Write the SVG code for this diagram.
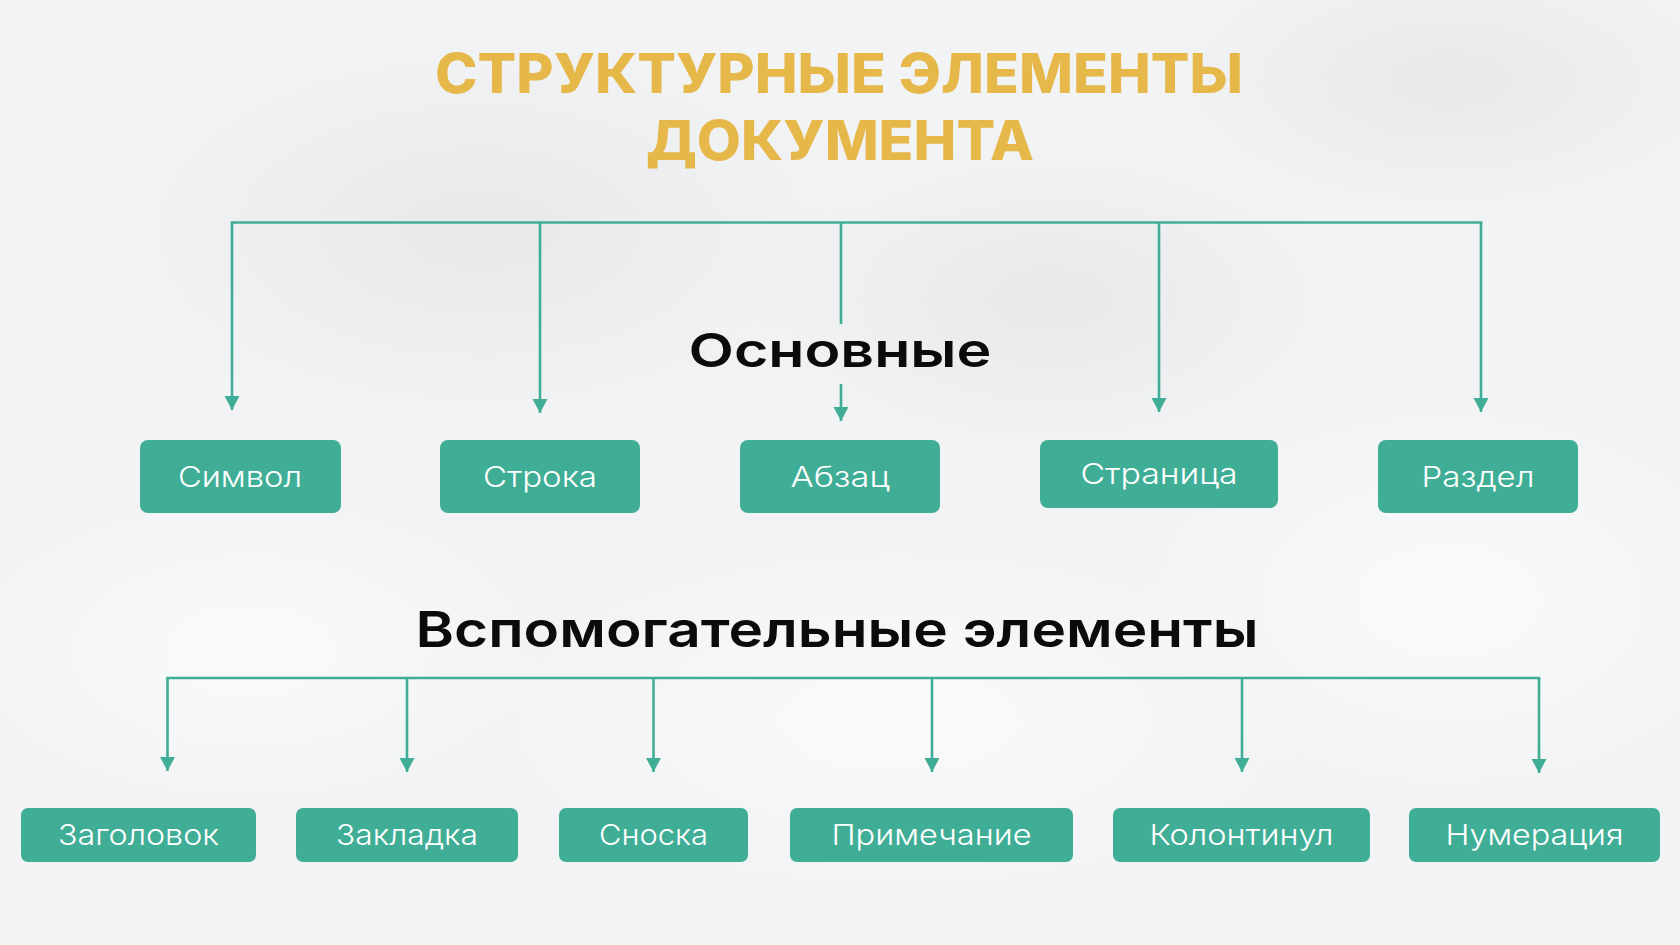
<svg xmlns="http://www.w3.org/2000/svg" width="1680" height="945" viewBox="0 0 1680 945">
  <defs>
    <style>
      .box { fill: #40AE96; }
      .lbl { font-family: Inter, "Noto Sans", "DejaVu Sans", sans-serif; font-size: 28px; font-weight: 300; fill: #FFFFFF; text-anchor: middle; }
      .title { font-family: Inter, "Noto Sans", "DejaVu Sans", sans-serif; font-size: 55px; font-weight: 800; fill: #E6B84A; text-anchor: middle; }
      .head { font-family: Inter, "Noto Sans", "DejaVu Sans", sans-serif; font-weight: 600; fill: #0B0B0B; text-anchor: middle; }
      .conn { fill: none; stroke: #40AE96; stroke-width: 2.6; }
      .arrow { fill: none; stroke: #40AE96; stroke-width: 2.6; marker-end: url(#ah); }
    </style>
    <marker id="ah" markerUnits="userSpaceOnUse" markerWidth="16" markerHeight="16" refX="14" refY="7.5" orient="auto">
      <path d="M0,0 L14,7.5 L0,15 Z" fill="#40AE96"/>
    </marker>
    <radialGradient id="shade" cx="0.5" cy="0.5" r="0.5">
      <stop offset="0" stop-color="#DCDEE0" stop-opacity="0.5"/>
      <stop offset="1" stop-color="#DCDEE0" stop-opacity="0"/>
    </radialGradient>
    <radialGradient id="light" cx="0.5" cy="0.5" r="0.5">
      <stop offset="0" stop-color="#FAFBFB" stop-opacity="0.9"/>
      <stop offset="1" stop-color="#FAFBFB" stop-opacity="0"/>
    </radialGradient>
  </defs>

  <!-- background -->
  <rect x="0" y="0" width="1680" height="945" fill="#F2F3F4"/>
  <ellipse cx="480" cy="230" rx="380" ry="200" fill="url(#shade)"/>
  <ellipse cx="1450" cy="80" rx="300" ry="140" fill="url(#shade)"/>
  <ellipse cx="1050" cy="300" rx="300" ry="160" fill="url(#shade)"/>
  <ellipse cx="900" cy="720" rx="420" ry="180" fill="url(#light)"/>
  <ellipse cx="250" cy="650" rx="300" ry="160" fill="url(#light)"/>
  <ellipse cx="1450" cy="600" rx="320" ry="200" fill="url(#light)"/>

  <!-- headings -->
  <g id="title">
    <text class="title" x="839" y="93" textLength="808" lengthAdjust="spacingAndGlyphs">СТРУКТУРНЫЕ ЭЛЕМЕНТЫ</text>
    <text class="title" x="840" y="160" textLength="388" lengthAdjust="spacingAndGlyphs">ДОКУМЕНТА</text>
  </g>
  <g id="heading-main">
    <text class="head" x="840" y="367" font-size="47" textLength="303" lengthAdjust="spacingAndGlyphs">Основные</text>
  </g>
  <g id="heading-aux">
    <text class="head" x="837" y="647" font-size="50" textLength="843" lengthAdjust="spacingAndGlyphs">Вспомогательные элементы</text>
  </g>

  <!-- connectors -->
  <g id="connectors">
    <path class="conn" d="M232,224 L232,222.5 L1481,222.5 L1481,224"/>
    <path class="arrow" d="M232,222.5 L232,410"/>
    <path class="arrow" d="M540,222.5 L540,413"/>
    <path class="conn" d="M841,222.5 L841,324"/>
    <path class="arrow" d="M841,384 L841,421"/>
    <path class="arrow" d="M1159,222.5 L1159,412"/>
    <path class="arrow" d="M1481,222.5 L1481,412"/>

    <path class="conn" d="M167.5,680 L167.5,678 L1539,678 L1539,680"/>
    <path class="arrow" d="M167.5,678 L167.5,771"/>
    <path class="arrow" d="M407,678 L407,772"/>
    <path class="arrow" d="M653.5,678 L653.5,772"/>
    <path class="arrow" d="M932,678 L932,772"/>
    <path class="arrow" d="M1242,678 L1242,772"/>
    <path class="arrow" d="M1539,678 L1539,773"/>
  </g>

  <!-- main nodes -->
  <g id="node-simvol">
    <rect class="box" x="140" y="440" width="201" height="73" rx="8"/>
    <text class="lbl" x="240" y="486.5" textLength="124" lengthAdjust="spacingAndGlyphs">Символ</text>
  </g>
  <g id="node-stroka">
    <rect class="box" x="440" y="440" width="200" height="73" rx="8"/>
    <text class="lbl" x="540" y="486.5" textLength="114" lengthAdjust="spacingAndGlyphs">Строка</text>
  </g>
  <g id="node-abzac">
    <rect class="box" x="740" y="440" width="200" height="73" rx="8"/>
    <text class="lbl" x="840" y="486.5" textLength="99" lengthAdjust="spacingAndGlyphs">Абзац</text>
  </g>
  <g id="node-stranica">
    <rect class="box" x="1040" y="440" width="238" height="68" rx="8"/>
    <text class="lbl" x="1159" y="484" textLength="157" lengthAdjust="spacingAndGlyphs">Страница</text>
  </g>
  <g id="node-razdel">
    <rect class="box" x="1378" y="440" width="200" height="73" rx="8"/>
    <text class="lbl" x="1478" y="486.5" textLength="113" lengthAdjust="spacingAndGlyphs">Раздел</text>
  </g>

  <!-- auxiliary nodes -->
  <g id="node-zagolovok">
    <rect class="box" x="21" y="808" width="235" height="54" rx="7"/>
    <text class="lbl" x="138.5" y="845" textLength="161" lengthAdjust="spacingAndGlyphs">Заголовок</text>
  </g>
  <g id="node-zakladka">
    <rect class="box" x="296" y="808" width="222" height="54" rx="7"/>
    <text class="lbl" x="407" y="845" textLength="142" lengthAdjust="spacingAndGlyphs">Закладка</text>
  </g>
  <g id="node-snoska">
    <rect class="box" x="559" y="808" width="189" height="54" rx="7"/>
    <text class="lbl" x="653.5" y="845" textLength="109" lengthAdjust="spacingAndGlyphs">Сноска</text>
  </g>
  <g id="node-primechanie">
    <rect class="box" x="790" y="808" width="283" height="54" rx="7"/>
    <text class="lbl" x="931.5" y="845" textLength="200" lengthAdjust="spacingAndGlyphs">Примечание</text>
  </g>
  <g id="node-kolontitul">
    <rect class="box" x="1113" y="808" width="257" height="54" rx="7"/>
    <text class="lbl" x="1241.5" y="845" textLength="184" lengthAdjust="spacingAndGlyphs">Колонтинул</text>
  </g>
  <g id="node-numeracia">
    <rect class="box" x="1409" y="808" width="251" height="54" rx="7"/>
    <text class="lbl" x="1534.5" y="845" textLength="178" lengthAdjust="spacingAndGlyphs">Нумерация</text>
  </g>
</svg>
